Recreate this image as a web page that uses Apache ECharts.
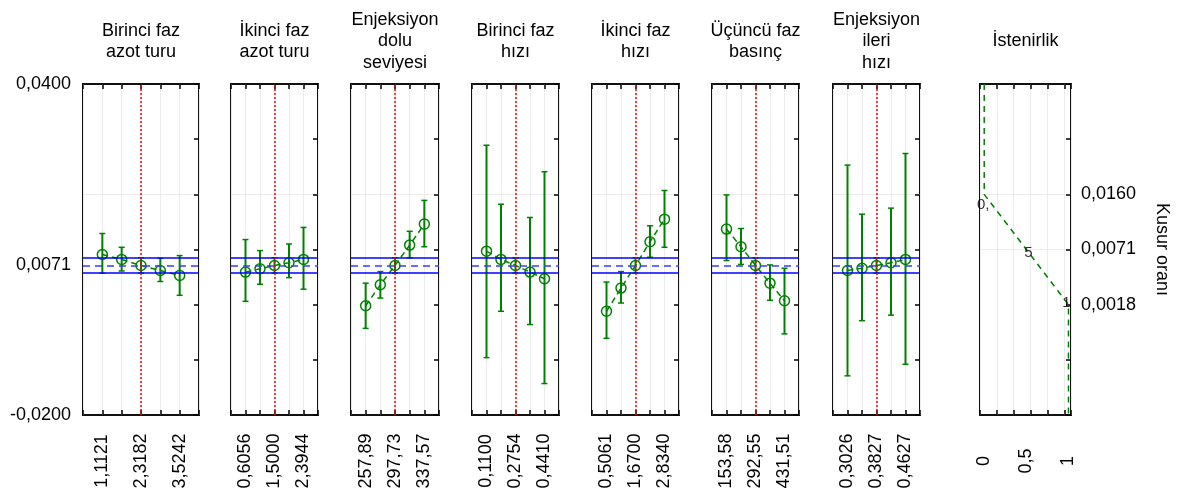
<!DOCTYPE html>
<html>
<head>
<meta charset="utf-8">
<title>Profil</title>
<script src="https://cdn.jsdelivr.net/npm/echarts@6/dist/echarts.min.js"></script>
<style>
  html, body { margin: 0; padding: 0; background: #fff; }
  #chart { width: 1184px; height: 496px; }
</style>
</head>
<body>
<div id="chart"></div>
<script>
// Factor panels: titles and the three labelled factor levels (low, current, high)
const titles = [
  'Birinci faz\nazot turu',
  'İkinci faz\nazot turu',
  'Enjeksiyon\ndolu\nseviyesi',
  'Birinci faz\nhızı',
  'İkinci faz\nhızı',
  'Üçüncü faz\nbasınç',
  'Enjeksiyon\nileri\nhızı'
];
const tickLabels = [
  ['1,1121', '2,3182', '3,5242'],
  ['0,6056', '1,5000', '2,3944'],
  ['257,89', '297,73', '337,57'],
  ['0,1100', '0,2754', '0,4410'],
  ['0,5061', '1,6700', '2,8340'],
  ['153,58', '292,55', '431,51'],
  ['0,3026', '0,3827', '0,4627']
];

// Predicted defect rate at the five levels of each factor, with confidence limits
const means = [
  [0.0091, 0.0082, 0.0071, 0.0062, 0.0053],
  [0.0059, 0.0065, 0.0071, 0.0076, 0.0082],
  [-0.0002, 0.0036, 0.0071, 0.0108, 0.0146],
  [0.0097, 0.0082, 0.0071, 0.0059, 0.0047],
  [-0.0012, 0.0030, 0.0071, 0.0114, 0.0155],
  [0.0137, 0.0105, 0.0071, 0.0039, 0.0007],
  [0.0062, 0.0066, 0.0071, 0.0076, 0.0082]
];
const lower = [
  [0.0057, 0.0061, 0.0057, 0.0042, 0.0017],
  [0.0006, 0.0037, 0.0057, 0.0049, 0.0028],
  [-0.0043, 0.0012, 0.0057, 0.0085, 0.0105],
  [-0.0096, -0.0012, 0.0057, -0.0036, -0.0143],
  [-0.0061, 0.0003, 0.0057, 0.0086, 0.0104],
  [0.0080, 0.0073, 0.0057, 0.0008, -0.0053],
  [-0.0129, -0.0029, 0.0057, -0.0019, -0.0108]
];
const upper = [
  [0.0129, 0.0104, 0.0085, 0.0084, 0.0089],
  [0.0118, 0.0098, 0.0085, 0.0110, 0.0140],
  [0.0039, 0.0060, 0.0085, 0.0133, 0.0189],
  [0.0289, 0.0182, 0.0085, 0.0158, 0.0241],
  [0.0041, 0.0060, 0.0085, 0.0143, 0.0207],
  [0.0199, 0.0138, 0.0085, 0.0072, 0.0066],
  [0.0253, 0.0164, 0.0085, 0.0175, 0.0274]
];

// Current prediction and its confidence band
const predicted = 0.0071;
const predLow = 0.0057;
const predHigh = 0.0085;

// Response axis range
const yMin = -0.02, yMax = 0.04, yStep = 0.01;

// Desirability panel
const desTitle = 'İstenirlik';
const desAxisName = 'Kusur oranı';
const desTickLabels = ['', '', '0,0018', '0,0071', '0,0160', '', ''];
const desirability = [0, 0, 0.5, 1, 1];
const desRank = [6, 4, 3, 2, 0];
const desMarks = ['0,', '5', '1'];
const desXLabels = [0, 0.5, 1];

// ---- layout ----
const panelLeft = [83, 231, 351, 472, 592, 712, 833, 980];
const panelWidth = [116, 87, 88, 87, 87, 87, 87, 91];
const TOP = 84, HEIGHT = 331;
const FONT = "'Liberation Sans', Arial, sans-serif";
const GREEN = '#008000', BLUE = '#0000ff', RED = '#ff0000', GRID = '#ebebeb';
const CLEAR = 'rgba(0,0,0,0)';

const fmt4 = v => v.toFixed(4).replace('.', ',');
const tickStyle = { show: true, inside: true, length: 5, lineStyle: { color: '#000', width: 1.5 } };
const noLine = { show: false, onZero: false };

const grids = [], xAxes = [], yAxes = [], series = [], graphics = [];

function addTitle(i, text) {
  graphics.push({
    type: 'text',
    x: panelLeft[i] + panelWidth[i] / 2,
    y: 41.5,
    silent: true,
    style: {
      text: text, fill: '#000', fontSize: 18, fontFamily: FONT, lineHeight: 21.5,
      align: 'center', verticalAlign: 'middle'
    }
  });
}

// horizontal light grid line only at 0.02 on the response axis
const respSplitColors = [CLEAR, CLEAR, CLEAR, CLEAR, GRID, CLEAR, CLEAR];

for (let i = 0; i < 7; i++) {
  grids.push({
    left: panelLeft[i], top: TOP, width: panelWidth[i], height: HEIGHT,
    show: true, borderColor: '#111', borderWidth: 2, backgroundColor: CLEAR
  });
  const lab = tickLabels[i];
  xAxes.push({
    gridIndex: i, type: 'value', position: 'bottom', min: 0, max: 6, interval: 1,
    axisLine: noLine, axisTick: tickStyle,
    splitLine: { show: true, lineStyle: { color: GRID, width: 1 } },
    axisLabel: {
      show: true, interval: 0, rotate: 90, align: 'center', margin: 46,
      fontSize: 18, fontFamily: FONT, color: '#000',
      formatter: v => (v === 1 ? lab[0] : v === 3 ? lab[1] : v === 5 ? lab[2] : '')
    }
  });
  xAxes.push({
    gridIndex: i, type: 'value', position: 'top', min: 0, max: 6, interval: 1,
    axisLine: noLine, axisTick: tickStyle, splitLine: { show: false },
    axisLabel: { show: false }
  });
  yAxes.push({
    gridIndex: i, type: 'value', position: 'left', min: yMin, max: yMax, interval: yStep,
    axisLine: noLine, axisTick: { show: false },
    splitLine: { show: true, lineStyle: { color: respSplitColors, width: 1 } },
    axisLabel: {
      show: i === 0, customValues: [yMin, predicted, yMax], formatter: fmt4,
      margin: 12, fontSize: 18, fontFamily: FONT, color: '#000', padding: [0, 0, 10, 0]
    }
  });
  yAxes.push({
    gridIndex: i, type: 'value', position: 'right', min: yMin, max: yMax, interval: yStep,
    axisLine: noLine, axisTick: tickStyle, splitLine: { show: false },
    axisLabel: { show: false }
  });

  // error bars
  series.push({
    type: 'custom', xAxisIndex: 2 * i, yAxisIndex: 2 * i, z: 3, silent: true,
    data: means[i].map((m, k) => [k + 1, lower[i][k], upper[i][k]]),
    encode: { x: 0, y: [1, 2] },
    renderItem: (params, api) => {
      const x = api.value(0);
      const lo = api.coord([x, api.value(1)]);
      const hi = api.coord([x, api.value(2)]);
      const cw = 3;
      return {
        type: 'group',
        children: [
          { type: 'line', shape: { x1: lo[0], y1: lo[1], x2: hi[0], y2: hi[1] }, style: { stroke: GREEN, lineWidth: 2 } },
          { type: 'line', shape: { x1: lo[0] - cw, y1: lo[1], x2: lo[0] + cw, y2: lo[1] }, style: { stroke: GREEN, lineWidth: 1.5 } },
          { type: 'line', shape: { x1: hi[0] - cw, y1: hi[1], x2: hi[0] + cw, y2: hi[1] }, style: { stroke: GREEN, lineWidth: 1.5 } }
        ]
      };
    }
  });

  // profile line with hollow markers, plus prediction band and current level
  series.push({
    type: 'line', xAxisIndex: 2 * i, yAxisIndex: 2 * i, z: 4, silent: true,
    data: means[i].map((m, k) => [k + 1, m]),
    symbol: 'circle', symbolSize: 10, showSymbol: true,
    itemStyle: { color: CLEAR, borderColor: GREEN, borderWidth: 1.5 },
    lineStyle: { color: GREEN, width: 1.5, type: [6, 4] },
    emphasis: { disabled: true },
    markLine: {
      silent: true, symbol: 'none', precision: 6, label: { show: false }, animation: false,
      data: [
        { yAxis: predLow, lineStyle: { color: BLUE, width: 1.5, type: 'solid' } },
        { yAxis: predHigh, lineStyle: { color: BLUE, width: 1.5, type: 'solid' } },
        { yAxis: predicted, lineStyle: { color: '#3b3bff', width: 1.5, type: [7, 5] } },
        { xAxis: 3, lineStyle: { color: RED, width: 1.5, type: [2, 2] } }
      ]
    }
  });

  addTitle(i, titles[i]);
}

// ---- desirability panel ----
const d = 7;
grids.push({
  left: panelLeft[d], top: TOP, width: panelWidth[d], height: HEIGHT,
  show: true, borderColor: '#111', borderWidth: 2, backgroundColor: CLEAR
});
xAxes.push({
  gridIndex: d, type: 'value', position: 'bottom', min: -0.05, max: 1.03, interval: 0.2,
  axisLine: noLine, axisTick: tickStyle,
  splitLine: { show: true, lineStyle: { color: GRID, width: 1 } },
  axisLabel: {
    show: true, customValues: desXLabels, rotate: 90, align: 'center', margin: 46,
    fontSize: 18, fontFamily: FONT, color: '#000',
    formatter: v => String(v).replace('.', ',')
  }
});
xAxes.push({
  gridIndex: d, type: 'value', position: 'top', min: -0.05, max: 1.03, interval: 0.2,
  axisLine: noLine, axisTick: tickStyle, splitLine: { show: false },
  axisLabel: { show: false }
});
yAxes.push({
  gridIndex: d, type: 'value', position: 'left', min: 0, max: 6, interval: 1,
  axisLine: noLine, axisTick: { show: false },
  splitLine: { show: true, lineStyle: { color: [CLEAR, CLEAR, CLEAR, GRID, GRID, CLEAR, CLEAR], width: 1 } },
  axisLabel: { show: false }
});
yAxes.push({
  gridIndex: d, type: 'value', position: 'right', min: 0, max: 6, interval: 1,
  axisLine: noLine, axisTick: tickStyle, splitLine: { show: false },
  axisLabel: {
    show: true, margin: 10, fontSize: 18, fontFamily: FONT, color: '#000',
    formatter: v => desTickLabels[Math.round(v)] || ''
  },
  name: desAxisName, nameLocation: 'middle', nameRotate: -90, nameGap: 82,
  nameTextStyle: { fontSize: 18, fontFamily: FONT, color: '#000' }
});
series.push({
  type: 'line', xAxisIndex: 2 * d, yAxisIndex: 2 * d, z: 3, silent: true,
  data: desirability.map((v, k) => [v, desRank[k]]),
  symbol: 'none',
  lineStyle: { color: GREEN, width: 1.5, type: [6, 5] },
  emphasis: { disabled: true }
});
const markPos = [
  { position: 'bottom', distance: 3, offset: [-1, 0] },
  { position: 'inside', offset: [2, 3] },
  { position: 'inside', offset: [-2, -2] }
];
series.push({
  type: 'scatter', xAxisIndex: 2 * d, yAxisIndex: 2 * d, z: 5, silent: true,
  symbolSize: 1, itemStyle: { color: CLEAR },
  data: desMarks.map((t, k) => ({
    value: [desirability[k + 1], desRank[k + 1]],
    label: Object.assign({ show: true, formatter: t, fontSize: 15, fontFamily: FONT, color: '#000' }, markPos[k])
  }))
});
addTitle(d, desTitle);

const chart = echarts.init(document.getElementById('chart'), null, { renderer: 'canvas' });
chart.setOption({
  backgroundColor: '#fff',
  animation: false,
  grid: grids,
  xAxis: xAxes,
  yAxis: yAxes,
  series: series,
  graphic: graphics
});
</script>
</body>
</html>
